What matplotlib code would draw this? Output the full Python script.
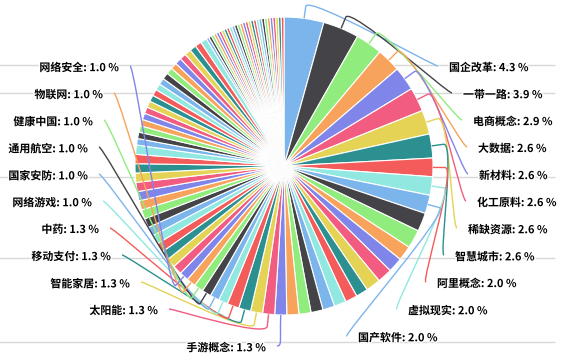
import numpy as np
import matplotlib
matplotlib.use('Agg')
import matplotlib.pyplot as plt
from matplotlib.path import Path
from matplotlib.patches import PathPatch
import matplotlib.patheffects as pe

plt.rcParams['font.family'] = ['Noto Sans CJK SC', 'DejaVu Sans']

# slice values (percent), biggest first, clockwise from 12 o'clock
values = ([4.3, 3.9, 2.9] + [2.6] * 5 + [2.0] * 5 + [1.6] * 4 + [1.3] * 12
          + [1.0] * 21 + [0.7] * 20 + [0.3] * 29)

# slices that carry a visible label
label_idx = [0, 1, 2, 3, 4, 5, 6, 7, 8, 9, 10,
             24, 25, 26, 27, 28, 29, 30, 31, 32, 33, 34]
label_names = ['国企改革', '一带一路', '电商概念', '大数据', '新材料', '化工原料',
               '稀缺资源', '智慧城市', '阿里概念', '虚拟现实', '国产软件',
               '手游概念', '太阳能', '智能家居', '移动支付', '中药', '网络游戏',
               '国家安防', '通用航空', '健康中国', '物联网', '网络安全']

palette = ["#7cb5ec", "#434348", "#90ed7d", "#f7a35c", "#8085e9",
           "#f15c80", "#e4d354", "#2b908f", "#f45b5b", "#91e8e1"]

# layout in pixels (y from top)
W, H = 563, 359
cx, cy, R = 284, 166, 149
label_side = ['r'] * 11 + ['l'] * 11
label_x = [449, 463, 473, 478, 479, 477, 468, 455, 437, 408, 358,
           266, 158, 130, 111, 99, 92, 88, 88, 93, 103, 119]
label_y = [68, 95, 122, 149, 176, 203, 230, 257, 284, 311, 338,
           348, 311, 284, 257, 230, 203, 176, 149, 122, 95, 68]
grid_y = [65, 93, 177, 258, 342]

fig = plt.figure(figsize=(W / 100, H / 100), dpi=100)
ax = fig.add_axes([0, 0, 1, 1])

for gy in grid_y:
    ax.plot([0, 554], [H - gy, H - gy], color='#d8d8d8', lw=1, zorder=0)

colors = [palette[i % 10] for i in range(len(values))]
wedges, _ = ax.pie(values, colors=colors, startangle=90, counterclock=False,
                   center=(cx, H - cy), radius=R,
                   wedgeprops=dict(edgecolor='white', linewidth=0.8))

total = sum(values)
cum = np.cumsum([0] + values)

for k, i in enumerate(label_idx):
    theta = np.radians(360 * (cum[i] + values[i] / 2) / total)
    touch = np.array([cx + R * np.sin(theta), cy - R * np.cos(theta)])
    brk = np.array([cx + (R + 12) * np.sin(theta), cy - (R + 12) * np.cos(theta)])
    tx, ty = label_x[k], label_y[k]
    if label_side[k] == 'r':
        lx, ly = tx - 11, ty - 2
        c1 = (lx - 5, ly)
        ha = 'left'
    else:
        lx, ly = tx + 11, ty - 2
        c1 = (lx + 5, ly)
        ha = 'right'
    c2 = 2 * brk - touch
    verts = [(lx, ly), c1, tuple(c2), tuple(brk), tuple(touch)]
    verts = [(x, H - y) for x, y in verts]
    codes = [Path.MOVETO, Path.CURVE4, Path.CURVE4, Path.CURVE4, Path.LINETO]
    ax.add_patch(PathPatch(Path(verts, codes), fill=False,
                           edgecolor=colors[i], lw=1, zorder=3))
    pct = values[i] / total * 100
    ax.text(tx, H - ty, f'{label_names[k]}: {pct:.1f} %', ha=ha, va='center',
            fontsize=7.9, fontweight='bold', color='black', zorder=4,
            path_effects=[pe.withStroke(linewidth=2, foreground='white')])

ax.set_xlim(0, W)
ax.set_ylim(0, H)
ax.set_aspect('auto')
ax.axis('off')
fig.savefig('out.png', dpi=100)
